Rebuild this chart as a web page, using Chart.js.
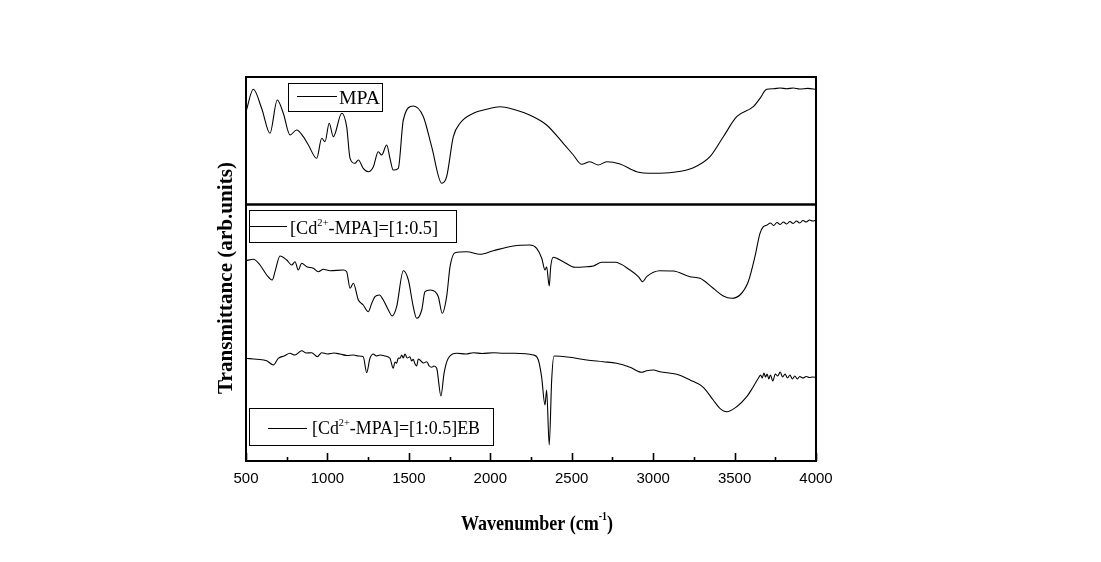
<!DOCTYPE html>
<html>
<head>
<meta charset="utf-8">
<script src="https://cdn.jsdelivr.net/npm/chart.js@4/dist/chart.umd.min.js"></script>
<style>
  html, body { margin: 0; padding: 0; background: #fff; }
  #wrap { width: 1101px; height: 562px; position: relative; }
</style>
</head>
<body>
<div id="wrap"><canvas id="c" width="1101" height="562"></canvas></div>
<script>
// ---------- data (wavenumber in cm-1, transmittance in arbitrary offset units) ----------
const seriesNames = ['MPA', '[Cd2+-MPA]=[1:0.5]', '[Cd2+-MPA]=[1:0.5]EB'];

const mpaWn = [500,545,596,647,692,729,770,811,852,883,934,965,985,1011,1036,1088,1118,1139,1169,1190,1220,1251,1282,1312,1333,1364,1384,1404,1435,1466,1527,1589,1640,1702,1732,1773,1814,1896,1978,2060,2141,2264,2346,2448,2510,2561,2612,2663,2715,2797,2899,3001,3124,3247,3349,3431,3513,3615,3656,3697,3740,3780,3820,3860,3900,3950,4000];
const mpaT  = [349.3,371.7,352.7,327.7,361,347.7,326,331,324.3,316,302.7,322.7,319.3,337.7,324.3,347.7,334.3,302.7,297.7,301,292.7,289.3,294.3,309.3,306,316,302.7,291,292.7,341,355,344.3,314.3,277.7,284.3,324.3,337.7,347.7,351.7,354.3,351.7,344.3,336,317.7,306,296.7,299.3,296,299.3,297,289.3,287.7,288.7,293.3,304.3,324.3,344.3,354.3,362.7,371.7,372.3,373,372.2,373,372,372.6,371.7];

const cdWn = [500,545,586,627,661,678,709,750,781,801,821,842,873,913,944,975,1016,1097,1118,1139,1159,1190,1220,1251,1272,1292,1319,1343,1374,1398,1425,1466,1497,1527,1548,1579,1599,1630,1661,1681,1705,1732,1753,1783,1855,1937,2019,2141,2244,2285,2316,2336,2346,2362,2371,2387,2448,2520,2592,2633,2684,2766,2858,2909,2936,2960,3042,3124,3226,3288,3369,3431,3482,3533,3584,3625,3656,3677,3700,3720,3740,3760,3780,3800,3820,3840,3860,3880,3900,3920,3940,3960,3980,4000];
const cdT  = [200.3,201.7,196,186,181,189.3,205,201,196,199.3,191,197.7,194.3,192.7,189.3,191.7,190.3,191,189.3,172.7,177.7,161,156,149.3,157.7,164.3,166,161,151,145,154.3,190.3,181,154.3,142.7,151,169.3,171,169.3,164.3,147.7,164.3,194.3,208.3,209.3,206.7,210.3,215,216,212.7,202.7,191,194.3,175,194.3,203.7,199.3,193.7,194.3,195,198.7,198.7,191,184.3,179.3,184.3,190.3,190,184.3,182.7,172.7,165,162.7,166,179.3,204.3,227.7,234.3,236,238,235.5,238.5,236.5,239,237,239.5,237.5,240,238,240.5,239,241,240,241];

const ebWn = [500,566,627,668,698,735,770,800,842,870,903,938,965,1000,1040,1077,1120,1159,1190,1220,1241,1261,1282,1300,1323,1354,1384,1404,1415,1425,1435,1446,1456,1466,1476,1490,1507,1517,1527,1538,1548,1558,1568,1590,1610,1625,1640,1655,1671,1697,1716,1742,1794,1850,1896,1950,2019,2080,2141,2264,2295,2315,2336,2346,2362,2377,2391,2489,2592,2694,2776,2858,2930,2960,3001,3042,3145,3226,3308,3369,3410,3452,3513,3575,3615,3646,3660,3670,3680,3690,3700,3710,3720,3735,3750,3765,3780,3795,3810,3825,3840,3855,3870,3885,3900,3920,3940,3960,3980,4000];
const ebT  = [102.7,101.7,100.3,96,102.7,105,107.7,106,110.3,108,108.3,104.3,108.3,107,108,107,105.5,106,105,104.3,88.3,102.7,107,105,106,105,102.7,92.7,99,97.7,103,102.7,106,103,107,103,104.3,100,101.7,97,95,102,101,98,99.3,95,93.7,95,92.7,65,87.7,102.7,107.7,107,108.3,107.5,108.3,107.8,107.7,106,101,84.3,56,71,16,81,105,103.7,101,99.3,97.7,93.7,88.7,90.3,91,89.3,86.7,81,73.7,61,52.7,49.3,54.3,64.3,74.3,82.7,86,83,88,84,87,82,86,80,87,85,89,84,87,83,86,82,85,82,84.5,83,84.5,83.5,84,83.7];

const xMajorTicks = [500,1000,1500,2000,2500,3000,3500,4000];
const xMinorTicks = [750,1250,1750,2250,2750,3250,3750];
const dividerValue = 257.5;   // boundary between the two stacked panels
const xTitle = ['Wavenumber (cm', '-1', ')'];
const yTitle = 'Transmittance (arb.units)';

// ---------- helpers ----------
function toPoints(xs, ys) { return xs.map((x, i) => ({ x: x, y: ys[i] })); }

function drawRich(ctx, segs, x, baseline, targetWidth) {
  let w = 0;
  segs.forEach(s => { ctx.font = s.font; s.w = ctx.measureText(s.t).width; w += s.w; });
  const sx = targetWidth ? targetWidth / w : 1;
  ctx.save();
  ctx.translate(x, baseline);
  ctx.scale(sx, 1);
  ctx.textBaseline = 'alphabetic';
  ctx.textAlign = 'left';
  let cx = 0;
  segs.forEach(s => { ctx.font = s.font; ctx.fillText(s.t, cx, s.dy || 0); cx += s.w; });
  ctx.restore();
}

const serif = '"Liberation Serif", "Times New Roman", serif';
function legendSegs(name) {
  const f = '19px ' + serif, fs = '11px ' + serif;
  const m = name.match(/^(\[Cd)(2\+)(.*)$/);
  if (!m) return [{ t: name, font: f }];
  return [{ t: m[1], font: f }, { t: m[2], font: fs, dy: -8 }, { t: m[3], font: f }];
}

// legend boxes (layout, relative to chart area left/top)
const legendLayout = [
  { bx: 42, by: 6,   bw: 94,  bh: 28, lx1: 51, lx2: 91, ly: 19,  tx: 93, tb: 26.5, tw: 41 },
  { bx: 3,  by: 133, bw: 207, bh: 32, lx1: 4,  lx2: 41, ly: 149, tx: 44, tb: 156.5, tw: 148 },
  { bx: 3,  by: 331, bw: 244, bh: 37, lx1: 22, lx2: 61, ly: 351, tx: 66, tb: 356.5, tw: 168 }
];

const decorPlugin = {
  id: 'decor',
  afterDatasetsDraw(chart) {
    const { ctx, chartArea: a, scales: { x, y } } = chart;
    ctx.save();
    ctx.strokeStyle = '#000';
    ctx.fillStyle = '#000';
    ctx.lineWidth = 2;
    ctx.strokeRect(a.left, a.top, a.right - a.left, a.bottom - a.top);
    const yd = Math.round(y.getPixelForValue(dividerValue)) + 0.5;
    ctx.lineWidth = 2.5;
    ctx.beginPath(); ctx.moveTo(a.left, yd); ctx.lineTo(a.right, yd); ctx.stroke();
    ctx.lineWidth = 1.6;
    xMajorTicks.concat(xMinorTicks).forEach(v => {
      const px = Math.round(x.getPixelForValue(v)) + 0.5;
      const len = xMajorTicks.includes(v) ? 8 : 4;
      ctx.beginPath(); ctx.moveTo(px, a.bottom); ctx.lineTo(px, a.bottom - len); ctx.stroke();
    });
    legendLayout.forEach((L, i) => {
      const bx = a.left + L.bx, by = a.top + L.by;
      ctx.fillStyle = '#fff';
      ctx.fillRect(bx, by, L.bw, L.bh);
      ctx.lineWidth = 1;
      ctx.strokeStyle = '#000';
      ctx.strokeRect(Math.round(bx) + 0.5, Math.round(by) + 0.5, L.bw, L.bh);
      ctx.lineWidth = 1.1;
      ctx.beginPath();
      ctx.moveTo(a.left + L.lx1, a.top + L.ly + 0.5);
      ctx.lineTo(a.left + L.lx2, a.top + L.ly + 0.5);
      ctx.stroke();
      ctx.fillStyle = '#000';
      drawRich(ctx, legendSegs(seriesNames[i]), a.left + L.tx, a.top + L.tb, L.tw);
    });
    ctx.restore();
  },
  afterDraw(chart) {
    const { ctx, chartArea: a } = chart;
    ctx.save();
    ctx.fillStyle = '#000';
    const fb = 'bold 22px ' + serif, fbs = 'bold 12px ' + serif;
    const cxMid = (a.left + a.right) / 2;
    drawRich(ctx, [{ t: xTitle[0], font: fb }, { t: xTitle[1], font: fbs, dy: -10 }, { t: xTitle[2], font: fb }],
      cxMid - 76 + 6, a.bottom + 69, 152);
    ctx.translate(a.left - 14, (a.top + a.bottom) / 2 + 9);
    ctx.rotate(-Math.PI / 2);
    ctx.font = fb;
    const w = ctx.measureText(yTitle).width;
    ctx.scale(232 / w, 1);
    ctx.textAlign = 'center';
    ctx.textBaseline = 'alphabetic';
    ctx.fillText(yTitle, 0, 0);
    ctx.restore();
  }
};

const lineStyle = { borderColor: '#000', borderWidth: 1.1, pointRadius: 0, cubicInterpolationMode: 'monotone', fill: false };

new Chart(document.getElementById('c'), {
  type: 'line',
  data: {
    datasets: [
      Object.assign({ label: seriesNames[0], data: toPoints(mpaWn, mpaT) }, lineStyle),
      Object.assign({ label: seriesNames[1], data: toPoints(cdWn, cdT) }, lineStyle),
      Object.assign({ label: seriesNames[2], data: toPoints(ebWn, ebT) }, lineStyle)
    ]
  },
  options: {
    responsive: false,
    animation: false,
    layout: { padding: { left: 246, right: 285, top: 77, bottom: 0 } },
    plugins: { legend: { display: false }, tooltip: { enabled: false } },
    scales: {
      x: {
        type: 'linear', min: 500, max: 4000,
        afterBuildTicks: s => { s.ticks = xMajorTicks.map(v => ({ value: v })); },
        afterFit: s => { s.height = 101; },
        grid: { display: false, drawTicks: false },
        border: { display: false },
        ticks: {
          autoSkip: false, maxRotation: 0, padding: 9, color: '#000',
          font: { family: '"Liberation Sans", Arial, sans-serif', size: 15 },
          callback: v => String(v)
        }
      },
      y: { display: false, min: 0, max: 384 }
    }
  },
  plugins: [decorPlugin]
});
</script>
</body>
</html>
